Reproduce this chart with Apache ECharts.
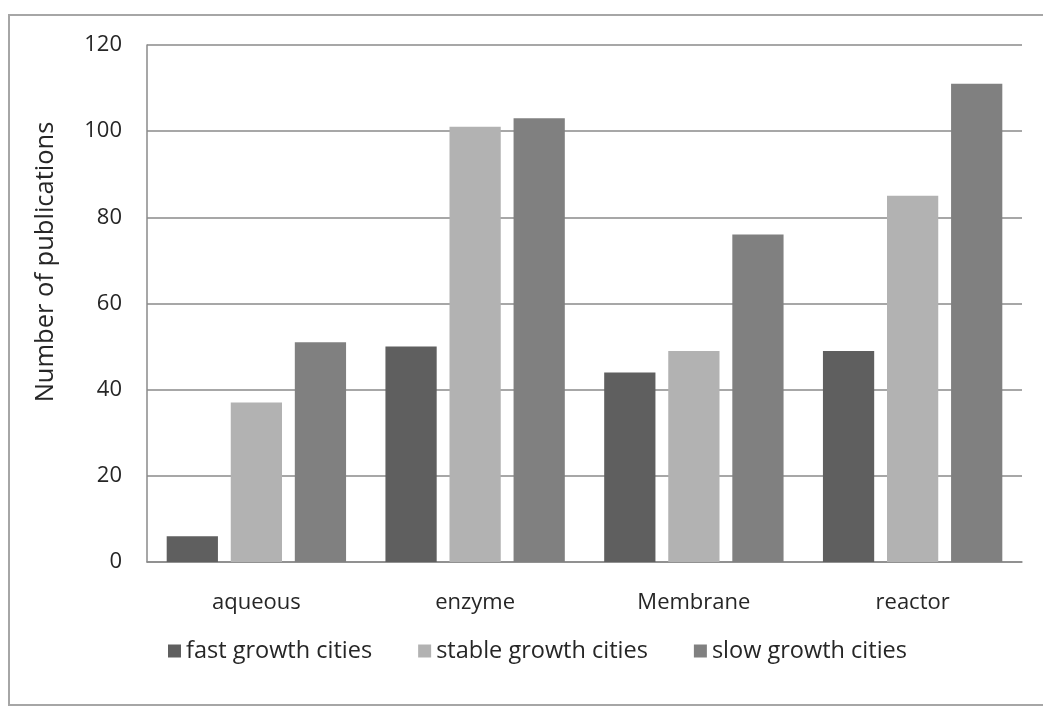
<!DOCTYPE html>
<html>
<head>
<meta charset="utf-8">
<script src="https://cdn.jsdelivr.net/npm/echarts@6/dist/echarts.min.js"></script>
<style>
  html, body { margin: 0; padding: 0; background: #ffffff; }
  #chart { width: 1043px; height: 706px; }
</style>
</head>
<body>
<div id="chart"></div>
<script>
// Categories and publication counts per city-growth group
const categories = ['aqueous', 'enzyme', 'Membrane', 'reactor'];
const fastGrowth = [6, 50, 44, 49];
const stableGrowth = [37, 101, 49, 85];
const slowGrowth = [51, 103, 76, 111];
const seriesNames = ['fast growth cities', 'stable growth cities', 'slow growth cities'];
const yTicks = [0, 20, 40, 60, 80, 100, 120];

const FONT = '"Open Sans", "DejaVu Sans", sans-serif';
const colors = ['#5f5f5f', '#b2b2b2', '#808080'];

const chart = echarts.init(document.getElementById('chart'), null, { renderer: 'canvas' });

chart.setOption({
  animation: false,
  backgroundColor: '#ffffff',
  color: colors,
  grid: { left: 147, right: 21, top: 45, bottom: 144, containLabel: false },
  legend: {
    data: seriesNames,
    left: 163,
    top: 634,
    itemWidth: 13,
    itemHeight: 13,
    itemGap: 46,
    icon: 'rect',
    textStyle: { fontFamily: FONT, fontSize: 23.5, color: '#262626' }
  },
  xAxis: {
    type: 'category',
    data: categories,
    axisLine: { show: true, lineStyle: { color: '#8a8a8a', width: 1.5 } },
    axisTick: { show: false },
    axisLabel: { fontFamily: FONT, fontSize: 22, color: '#262626', margin: 30 }
  },
  yAxis: {
    type: 'value',
    min: yTicks[0],
    max: yTicks[yTicks.length - 1],
    interval: yTicks[1] - yTicks[0],
    axisLine: { show: true, lineStyle: { color: '#8a8a8a', width: 1.5 } },
    axisTick: { show: false },
    splitLine: { show: true, lineStyle: { color: '#8a8a8a', width: 1.5 } },
    axisLabel: { fontFamily: FONT, fontSize: 22, color: '#262626', margin: 25 }
  },
  graphic: [
    {
      type: 'rect',
      silent: true,
      shape: { x: 9, y: 15, width: 1100, height: 690 },
      style: { fill: 'none', stroke: '#a6a6a6', lineWidth: 2 }
    },
    {
      type: 'text',
      silent: true,
      x: 46,
      y: 262,
      rotation: Math.PI / 2,
      style: {
        text: 'Number of publications',
        fontFamily: FONT,
        fontSize: 25.5,
        fill: '#262626',
        align: 'center',
        verticalAlign: 'middle'
      }
    }
  ],
  series: [
    { name: seriesNames[0], type: 'bar', data: fastGrowth, barGap: '25%', barCategoryGap: '18%' },
    { name: seriesNames[1], type: 'bar', data: stableGrowth },
    { name: seriesNames[2], type: 'bar', data: slowGrowth }
  ]
});
</script>
</body>
</html>
